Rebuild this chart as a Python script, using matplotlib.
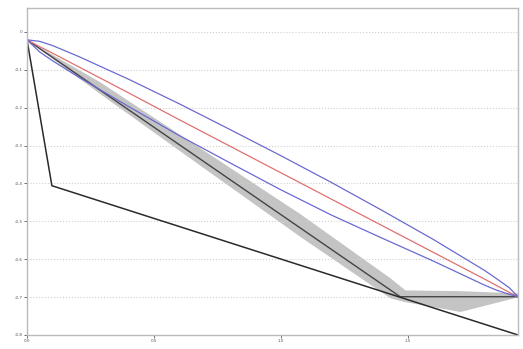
import matplotlib
matplotlib.use('Agg')
import matplotlib.pyplot as plt

# sample positions (x) and curve values
x_curve = [0.0, 0.05, 0.1, 0.2, 0.4, 0.6, 0.8, 1.0, 1.2, 1.4, 1.6, 1.8, 1.85, 1.9, 1.933]
red_mid = [-0.021, -0.039, -0.056, -0.091, -0.161, -0.232, -0.302, -0.372, -0.442,
           -0.512, -0.582, -0.652, -0.670, -0.688, -0.699]
blue_hi = [-0.021, -0.025, -0.036, -0.064, -0.125, -0.190, -0.258, -0.327, -0.398,
           -0.472, -0.548, -0.629, -0.652, -0.676, -0.699]
blue_lo = [-0.021, -0.053, -0.076, -0.118, -0.197, -0.274, -0.346, -0.417, -0.484,
           -0.545, -0.605, -0.668, -0.682, -0.693, -0.699]

# grey band
x_band = [0.0, 0.287, 0.681, 1.075, 1.429, 1.488, 1.705, 1.933]
band_hi = [-0.021, -0.132, -0.306, -0.480, -0.649, -0.681, -0.683, -0.689]
band_lo = [-0.021, -0.163, -0.352, -0.540, -0.702, -0.712, -0.738, -0.699]

# dark path inside the band
x_path = [0.0, 1.469, 1.933]
y_path = [-0.021, -0.699, -0.699]

# outer black polygon
x_outer = [0.0, 0.098, 1.933]
y_outer = [-0.021, -0.406, -0.8]

x_ticks = [0.0, 0.5, 1.0, 1.5]
x_labels = ['0.0', '0.5', '1.0', '1.5']
y_ticks = [0.0, -0.1, -0.2, -0.3, -0.4, -0.5, -0.6, -0.7, -0.8]
y_labels = ['0', '-0.1', '-0.2', '-0.3', '-0.4', '-0.5', '-0.6', '-0.7', '-0.8']

fig = plt.figure(figsize=(5.23, 3.49), dpi=100)
ax = fig.add_axes([27 / 523, 14 / 349, 491 / 523, 327 / 349])

ax.fill_between(x_band, band_lo, band_hi, color='#c4c4c4', lw=0)
ax.plot(x_path, y_path, color='#444444', lw=1.0)
ax.plot(x_outer, y_outer, color='#2a2a2a', lw=1.1)
ax.plot(x_curve, red_mid, color='#e07070', lw=0.9)
ax.plot(x_curve, blue_hi, color='#6a6ad0', lw=0.9)
ax.plot(x_curve, blue_lo, color='#6a6ad0', lw=0.9)

ax.set_xlim(0, 1.933)
ax.set_ylim(-0.8, 0.063)
ax.set_xticks(x_ticks)
ax.set_xticklabels(x_labels)
ax.set_yticks(y_ticks)
ax.set_yticklabels(y_labels)
ax.tick_params(labelsize=3, length=2, width=0.6, pad=1, colors='#555555')
ax.grid(axis='y', linestyle=':', color='#cfcfcf', lw=0.8)
for s in ax.spines.values():
    s.set_color('#bbbbbb')
    s.set_linewidth(1.0)

fig.savefig('out.png', dpi=100)
